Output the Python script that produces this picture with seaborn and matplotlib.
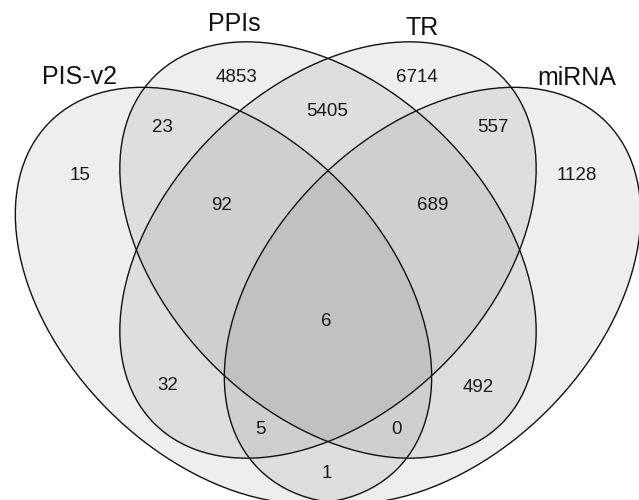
import matplotlib
matplotlib.use("Agg")
import matplotlib.pyplot as plt
from matplotlib.patches import Ellipse
import seaborn as sns
import pandas as pd

# ---- data -------------------------------------------------------------
set_names = ["PIS-v2", "PPIs", "TR", "miRNA"]
# membership code: PIS-v2, PPIs, TR, miRNA
region_codes = ["1000", "0100", "0010", "0001",
                "1100", "0110", "0011",
                "1110", "0111", "1111",
                "1010", "0101", "1011", "1101", "1001"]
region_counts = [15, 4853, 6714, 1128,
                 23, 5405, 557,
                 92, 689, 6,
                 32, 492, 5, 0, 1]

# ---- layout (pixel space of a 639 x 500 canvas) -----------------------
ellipse_centers = [(223.5, 295.5), (328, 250), (328, 250), (432.5, 295.5)]
ellipse_angles = [45, 45, -45, -45]
semi_major, semi_minor = 245.5, 162.5
set_label_pos = [(79, 77), (234, 24), (422, 28), (577, 78)]
region_label_pos = [(80, 175), (237, 77), (417, 77), (577, 175),
                    (162, 127), (327, 112), (493, 127),
                    (222, 205), (433, 205), (326, 322),
                    (168, 385), (478, 387), (260, 430), (396, 430), (327, 473)]

regions = pd.DataFrame({"code": region_codes, "count": region_counts,
                        "x": [p[0] for p in region_label_pos],
                        "y": [p[1] for p in region_label_pos]})

sns.set_theme(style="white")
plt.rcParams["font.family"] = ["Liberation Sans", "DejaVu Sans"]

fig = plt.figure(figsize=(6.39, 5.0), dpi=100)
ax = fig.add_axes([0, 0, 1, 1])
ax.set_xlim(0, 639)
ax.set_ylim(500, 0)
ax.axis("off")

shade = sns.color_palette(["#000000"])[0]
for (cx, cy), ang in zip(ellipse_centers, ellipse_angles):
    ax.add_patch(Ellipse((cx, cy), 2 * semi_major, 2 * semi_minor, angle=ang,
                         facecolor=shade, alpha=0.066, edgecolor="none", zorder=1))
for (cx, cy), ang in zip(ellipse_centers, ellipse_angles):
    ax.add_patch(Ellipse((cx, cy), 2 * semi_major, 2 * semi_minor, angle=ang,
                         facecolor="none", edgecolor="#111111", lw=1.0, zorder=2))

for name, (x, y) in zip(set_names, set_label_pos):
    ax.text(x, y, name, fontsize=18, ha="center", va="center", color="#111111", zorder=3)

for _, r in regions.iterrows():
    ax.text(r["x"], r["y"], str(r["count"]), fontsize=13.5, ha="center", va="center",
            color="#1a1a1a", zorder=3)

fig.savefig("out.png", dpi=100)
